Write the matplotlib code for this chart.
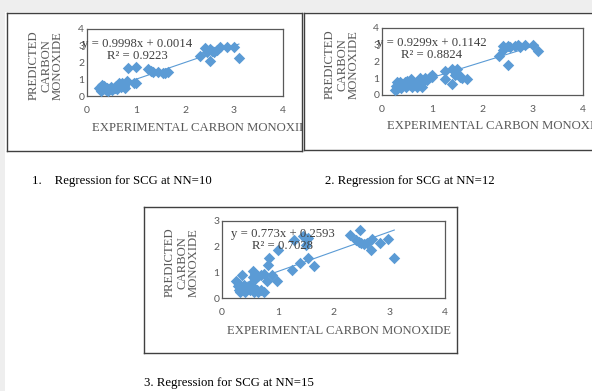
import numpy as np
import matplotlib.pyplot as plt
from matplotlib.patches import Rectangle

# Datos (experimental vs predicho)
x_nn10 = [0.25, 0.28, 0.3, 0.32, 0.35, 0.38, 0.4, 0.45, 0.48, 0.5, 0.55, 0.58, 0.6, 0.62,
          0.65, 0.7, 0.72, 0.75, 0.78, 0.8, 0.82, 0.95, 1.0, 0.3, 0.42,
          0.84, 1.01,
          1.25, 1.3, 1.35, 1.45, 1.55, 1.6, 1.65,
          2.3, 2.4, 2.45, 2.5, 2.55, 2.6, 2.65, 2.72, 2.85, 3.0, 2.5, 3.1]
y_nn10 = [0.45, 0.3, 0.55, 0.4, 0.6, 0.35, 0.5, 0.4, 0.55, 0.35, 0.5, 0.45, 0.6, 0.4,
          0.75, 0.55, 0.75, 0.6, 0.5, 0.8, 0.9, 0.8, 0.75, 0.65, 0.3,
          1.65, 1.75,
          1.6, 1.5, 1.45, 1.45, 1.35, 1.4, 1.45,
          2.4, 2.85, 2.65, 2.8, 2.7, 2.65, 2.75, 2.9, 2.9, 2.95, 2.1, 2.25]

x_nn12 = [0.25, 0.28, 0.3, 0.32, 0.35, 0.38, 0.4, 0.45, 0.48, 0.5, 0.55, 0.58, 0.6, 0.62,
          0.65, 0.7, 0.72, 0.75, 0.8, 0.8, 0.85, 0.9, 0.95, 1.0, 1.0, 0.3,
          1.25, 1.25, 1.4, 1.4, 1.5, 1.5, 1.55, 1.6, 1.7, 1.45,
          2.32, 2.4, 2.4, 2.5, 2.55, 2.65, 2.7, 2.75, 2.85, 3.0, 3.1, 2.5]
y_nn12 = [0.3, 0.55, 0.75, 0.45, 0.8, 0.4, 0.65, 0.75, 0.5, 0.85, 0.6, 0.95, 0.45, 0.8,
          0.65, 0.5, 0.85, 1.0, 0.45, 0.7, 1.0, 0.9, 1.1, 1.05, 1.2, 0.35,
          1.45, 0.95, 1.55, 0.65, 1.55, 1.3, 1.1, 1.0, 0.95, 1.2,
          2.33, 2.95, 2.7, 2.95, 2.85, 2.9, 3.0, 2.85, 3.0, 3.0, 2.6, 1.8]

x_nn15 = [0.25, 0.35, 0.28, 0.3, 0.32, 0.35, 0.38, 0.4, 0.42, 0.45, 0.5, 0.55, 0.58, 0.6,
          0.62, 0.65, 0.7, 0.75, 0.3, 0.5,
          0.55, 0.6, 0.65, 0.7, 0.55, 0.6, 0.75, 0.8, 0.82, 0.85, 0.9, 0.98, 1.01,
          1.25, 1.4, 1.3, 1.45, 1.5, 1.55, 1.5, 1.55, 1.65,
          2.29, 2.48, 2.4, 2.45, 2.5, 2.55, 2.6, 2.69, 2.68, 2.83, 2.98, 3.09]
y_nn15 = [0.65, 0.9, 0.45, 0.3, 0.25, 0.4, 0.3, 0.5, 0.25, 0.35, 0.3, 0.4, 0.25, 0.35,
          0.3, 0.25, 0.3, 0.25, 0.55, 0.5,
          1.05, 0.95, 0.85, 0.9, 0.8, 0.75, 0.95, 0.65, 1.3, 1.55, 0.9, 0.66, 1.86,
          1.08, 1.35, 2.25, 2.4, 2.3, 2.35, 2.05, 1.55, 1.25,
          2.47, 2.64, 2.25, 2.2, 2.15, 2.1, 2.15, 2.31, 1.88, 2.13, 2.3, 1.56]

pendientes = [0.9998, 0.9299, 0.773]
intercepts = [0.0014, 0.1142, 0.2593]
r2 = [0.9223, 0.8824, 0.7028]
ymax = [4, 4, 3]
titulos = ["1.    Regression for SCG at NN=10", "2. Regression for SCG at NN=12",
           "3. Regression for SCG at NN=15"]

W, H = 592, 391
AZUL = '#5B9BD5'
GRIS = '#595959'
SERIF = 'Liberation Serif'
FS = 9.2

fig = plt.figure(figsize=(W/100, H/100), dpi=100, facecolor='#eeeeee')
fig.patches.append(Rectangle((5/W, 0), 1, 1 - 12/H, transform=fig.transFigure,
                             facecolor='white', edgecolor='none', zorder=-10))

def rect(x0, y0, x1, y1):
    return [x0/W, 1 - y1/H, (x1 - x0)/W, (y1 - y0)/H]

# cajas exteriores y areas de grafica (en pixeles)
cajas = [(7, 13, 302, 151), (304, 13, 600, 150), (144, 207, 457, 353)]
areas = [(87, 29, 283, 96), (382, 28, 583, 95), (222, 221, 445, 298)]
ecuacion_pos = [(137, 50), (432, 49), (283, 240)]
xlab_pos = [(92, 128), (387, 126), (227, 331)]
ylab_x = [46, 342, 182]
datos = [(x_nn10, y_nn10), (x_nn12, y_nn12), (x_nn15, y_nn15)]

for i in range(3):
    caja = fig.add_axes(rect(*cajas[i]))
    caja.set_xticks([])
    caja.set_yticks([])
    for s in caja.spines.values():
        s.set_color('#404040')
        s.set_linewidth(1.0)

    ax = fig.add_axes(rect(*areas[i]))
    x, y = datos[i]
    ax.scatter(x, y, marker='D', s=34, color=AZUL, linewidths=0, zorder=3, clip_on=False)
    xl = np.array([min(x), max(x)])
    ax.plot(xl, pendientes[i]*xl + intercepts[i], color=AZUL, lw=0.8, zorder=2)
    ax.set_xlim(0, 4)
    ax.set_ylim(0, ymax[i])
    ax.set_xticks(range(0, 5))
    ax.set_yticks(range(0, ymax[i] + 1))
    ax.tick_params(length=0, labelsize=7.5, labelcolor=GRIS)
    ax.tick_params(axis='x', pad=7)
    ax.tick_params(axis='y', pad=2)
    for lab in ax.get_xticklabels() + ax.get_yticklabels():
        lab.set_family('Lato')
    for s in ax.spines.values():
        s.set_color('#595959')
        s.set_linewidth(0.9)

    # titulos de ejes, recortados por la caja
    xp, yp = xlab_pos[i]
    caja.text(xp/W, 1 - yp/H, "EXPERIMENTAL CARBON MONOXIDE", transform=fig.transFigure,
              ha='left', va='center', fontsize=FS, family=SERIF, color=GRIS, clip_on=True)
    yc = (areas[i][1] + areas[i][3]) / 2 + 3
    caja.text(ylab_x[i]/W, 1 - yc/H, "PREDICTED\nCARBON\nMONOXIDE", transform=fig.transFigure,
              rotation=90, ha='center', va='center', multialignment='center', linespacing=1.0,
              fontsize=FS, family=SERIF, color=GRIS, clip_on=True)

    ex, ey = ecuacion_pos[i]
    eq = "y = %sx + %s\nR² = %s" % (pendientes[i], intercepts[i], r2[i])
    fig.text(ex/W, 1 - ey/H, eq, ha='center', va='center', multialignment='center',
             fontsize=FS, family=SERIF, color='#404040', linespacing=1.1, zorder=10)

# leyendas de las figuras
fig.text(32/W, 1 - 181/H, titulos[0], ha='left', va='center', fontsize=FS, family=SERIF, color='black')
fig.text(325/W, 1 - 181/H, titulos[1], ha='left', va='center', fontsize=FS, family=SERIF, color='black')
fig.text(144/W, 1 - 383/H, titulos[2], ha='left', va='center', fontsize=FS, family=SERIF, color='black')

plt.savefig("out.png", dpi=100, facecolor=fig.get_facecolor())
